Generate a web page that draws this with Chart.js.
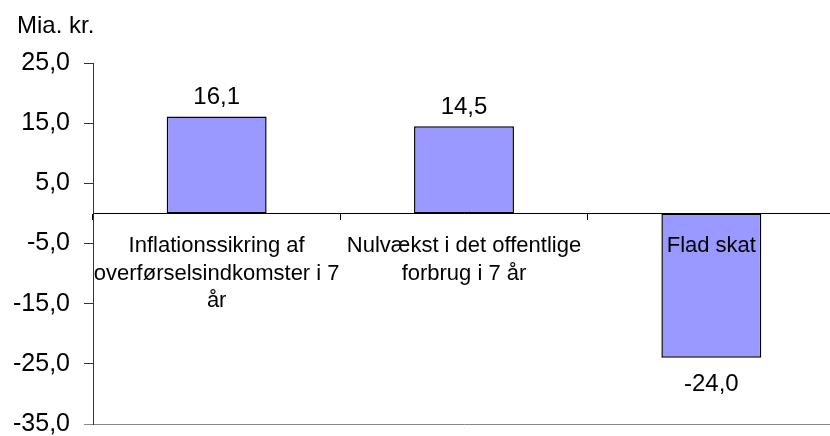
<!DOCTYPE html>
<html>
<head>
<meta charset="utf-8">
<script src="https://cdn.jsdelivr.net/npm/chart.js@4"></script>
<style>
  html, body { margin: 0; padding: 0; overflow: hidden; background: #fff; }
  #wrapper { width: 840px; height: 453px; }
</style>
</head>
<body>
<div id="wrapper"><canvas id="canvas"></canvas></div>
<script>
var categories = [
  ['Inflationssikring af', 'overførselsindkomster i 7', 'år'],
  ['Nulvækst i det offentlige', 'forbrug i 7 år'],
  ['Flad skat']
];
var values = [16.1, 14.5, -24.0];
var yMin = -35;
var yMax = 25;
var yStep = 10;
var unitLabel = 'Mia. kr.';

var fontFamily = '"Liberation Sans", Arial, sans-serif';

function fmt(v) {
  return v.toFixed(1).replace('.', ',');
}

// value labels above / below the bars + unit text
var labelsPlugin = {
  id: 'valueLabels',
  afterDatasetsDraw: function(chart) {
    var ctx = chart.ctx;
    var meta = chart.getDatasetMeta(0);
    ctx.save();
    ctx.fillStyle = '#000';
    ctx.font = '24px ' + fontFamily;
    ctx.textAlign = 'center';
    ctx.textBaseline = 'middle';
    meta.data.forEach(function(bar, i) {
      var v = values[i];
      if (v >= 0) {
        ctx.fillText(fmt(v), bar.x, bar.y - 19);
      } else {
        ctx.fillText(fmt(v), bar.x, bar.y + 27);
      }
    });
    ctx.textAlign = 'left';
    ctx.textBaseline = 'alphabetic';
    ctx.fillText(unitLabel, 17, 33);
    ctx.restore();
  }
};

var ctx = document.getElementById('canvas');

var myChart = new Chart(ctx, {
  type: 'bar',
  data: {
    labels: categories,
    datasets: [{
      data: values,
      backgroundColor: '#9999FF',
      borderColor: '#000',
      borderWidth: 1.5,
      borderSkipped: false,
      barPercentage: 0.404,
      categoryPercentage: 1
    }]
  },
  options: {
    responsive: true,
    maintainAspectRatio: false,
    animation: false,
    layout: { padding: { top: 63, bottom: 0, left: 0, right: 5 } },
    plugins: {
      legend: { display: false },
      tooltip: { enabled: false }
    },
    scales: {
      x: {
        position: { y: 0 },
        afterFit: function(scale) { scale.height = 0; },
        border: { display: true, color: '#000', width: 1 },
        grid: { drawOnChartArea: false, drawTicks: true, tickLength: 6, color: '#000' },
        ticks: {
          z: 1, // category labels drawn on top of the bars
          color: '#000',
          font: { family: fontFamily, size: 22, lineHeight: 1.25 },
          padding: 13,
          maxRotation: 0,
          autoSkip: false
        }
      },
      y: {
        min: yMin,
        max: yMax,
        afterFit: function(scale) { scale.width = 93; },
        border: { display: true, color: '#333', width: 1 },
        grid: {
          drawOnChartArea: true,
          drawTicks: true,
          tickLength: 9,
          color: function(c) { return c.tick && c.tick.value === yMin ? '#888' : 'rgba(0,0,0,0)'; },
          tickColor: function(c) { return c.tick && c.tick.value === yMin ? '#888' : '#333'; }
        },
        ticks: {
          stepSize: yStep,
          color: '#000',
          padding: 14,
          font: { family: fontFamily, size: 25 },
          callback: function(v) { return fmt(v); }
        }
      }
    }
  },
  plugins: [labelsPlugin]
});
</script>
</body>
</html>
